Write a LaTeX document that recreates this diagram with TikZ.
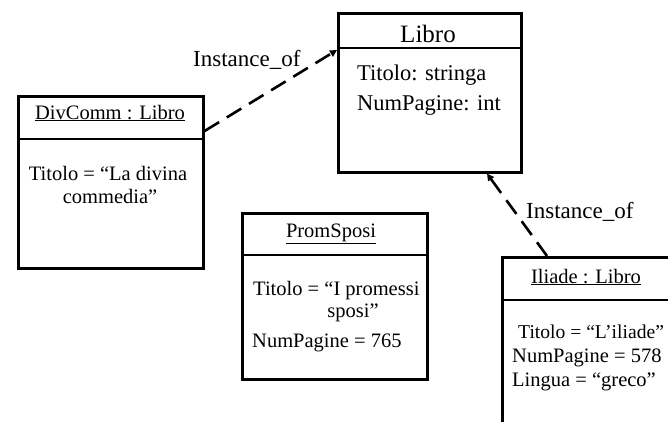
\documentclass[tikz,border=0pt]{standalone}
\usepackage{fontspec}
\setmainfont{Liberation Serif}
\usetikzlibrary{arrows.meta}
\begin{document}
\begin{tikzpicture}[x=1pt,y=-1pt,
  obj/.style={draw, line width=2.6pt, anchor=north west, inner sep=0pt},
  sep/.style={line width=2.6pt},
  txt/.style={inner sep=0pt, font=\fontsize{20.5}{24}\selectfont},
  attr/.style={inner sep=0pt, font=\fontsize{22.5}{26}\selectfont},
  lbl/.style={inner sep=0pt, font=\fontsize{23}{27}\selectfont},
  inst/.style={line width=2.6pt, dash pattern=on 17pt off 9pt,
    -{Triangle[length=7pt,width=7pt]}}]
\clip (0,0) rectangle (668,421);
% Libro class
\node[obj, minimum width=183pt, minimum height=159pt] (libro) at (337,12) {};
\draw[sep] ([yshift=-36pt]libro.north west) -- ([yshift=-36pt]libro.north east);
\node[inner sep=0pt, anchor=base, font=\fontsize{25}{29}\selectfont] (libroT) at (428,42) {Libro};
\node[attr, anchor=base west] (libroA1) at (357,80) {Titolo: stringa};
\node[attr, anchor=base west] (libroA2) at (357,110) {NumPagine: int};
% DivComm
\node[obj, minimum width=185pt, minimum height=172pt] (divcomm) at (17,95) {};
\draw[sep] ([yshift=-44pt]divcomm.north west) -- ([yshift=-44pt]divcomm.north east);
\node[txt, anchor=base] (divT) at (110,119) {\underline{DivComm : Libro}};
\node[txt, anchor=base] (divA1) at (108,180) {Titolo = “La divina};
\node[txt, anchor=base] (divA2) at (110,203) {commedia”};
% PromSposi
\node[obj, minimum width=185pt, minimum height=166pt] (prom) at (241,212) {};
\draw[sep] ([yshift=-43pt]prom.north west) -- ([yshift=-43pt]prom.north east);
\node[txt, anchor=base] (promT) at (331,237) {\underline{PromSposi}};
\node[txt, anchor=base west] (promA1) at (253,295) {Titolo = “I promessi};
\node[txt, anchor=base] (promA2) at (353,317) {sposi”};
\node[txt, anchor=base west] (promA3) at (252,347) {NumPagine = 765};
% Iliade
\node[obj, minimum width=200pt, minimum height=200pt] (iliade) at (501,256) {};
\draw[sep] ([yshift=-44pt]iliade.north west) -- ([yshift=-44pt]iliade.north east);
\node[txt, anchor=base] (ilT) at (586,283) {\underline{Iliade : Libro}};
\node[txt, anchor=base west, font=\fontsize{19.6}{24}\selectfont] (ilA1) at (518,338) {Titolo = “L’iliade”};
\node[txt, anchor=base west] (ilA2) at (512,362) {NumPagine = 578};
\node[txt, anchor=base west] (ilA3) at (512,386) {Lingua = “greco”};
% connectors
\draw[inst] ([yshift=-36pt]divcomm.north east) -- ([yshift=-38pt]libro.north west);
\draw[inst] ([xshift=46pt]iliade.north west) -- ([xshift=150pt]libro.south west);
\node[lbl, anchor=base west] (lab1) at (193,66) {Instance\_of};
\node[lbl, anchor=base west] (lab2) at (526,218) {Instance\_of};
\end{tikzpicture}
\end{document}
